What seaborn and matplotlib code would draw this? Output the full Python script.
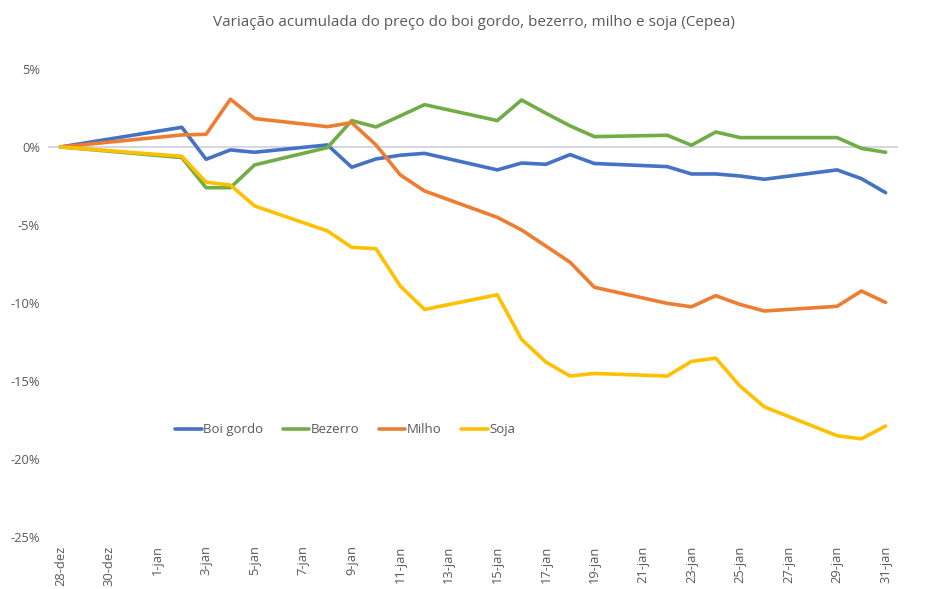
import numpy as np
import pandas as pd
import seaborn as sns
import matplotlib.pyplot as plt

# business days with quotes (2017-12-28 .. 2018-01-31)
dates = ["2017-12-28", "2018-01-02", "2018-01-03", "2018-01-04", "2018-01-05",
         "2018-01-08", "2018-01-09", "2018-01-10", "2018-01-11", "2018-01-12",
         "2018-01-15", "2018-01-16", "2018-01-17", "2018-01-18", "2018-01-19",
         "2018-01-22", "2018-01-23", "2018-01-24", "2018-01-25", "2018-01-26",
         "2018-01-29", "2018-01-30", "2018-01-31"]

boi_gordo = [0.0, 1.26, -0.79, -0.19, -0.34, 0.13, -1.30, -0.77, -0.53, -0.41,
             -1.47, -1.03, -1.11, -0.49, -1.06, -1.26, -1.73, -1.73, -1.86, -2.07,
             -1.47, -2.03, -2.93]
bezerro = [0.0, -0.68, -2.61, -2.61, -1.15, -0.04, 1.69, 1.28, 1.99, 2.71,
           1.69, 3.01, 2.16, 1.35, 0.66, 0.75, 0.11, 0.96, 0.60, 0.60,
           0.60, -0.09, -0.34]
milho = [0.0, 0.77, 0.81, 3.06, 1.82, 1.30, 1.56, 0.13, -1.79, -2.82,
         -4.51, -5.32, -6.35, -7.39, -8.99, -10.02, -10.24, -9.53, -10.09, -10.51,
         -10.21, -9.23, -9.96]
soja = [0.0, -0.60, -2.26, -2.44, -3.78, -5.38, -6.43, -6.52, -8.91, -10.41,
        -9.47, -12.33, -13.78, -14.68, -14.51, -14.68, -13.74, -13.53, -15.32, -16.65,
        -18.50, -18.70, -17.88]

series_names = ["Boi gordo", "Bezerro", "Milho", "Soja"]
colors = ["#4472C4", "#70AD47", "#ED7D31", "#FFC000"]

tick_dates = pd.date_range("2017-12-28", "2018-01-31", freq="2D")
tick_labels = ["28-dez", "30-dez", "1-jan", "3-jan", "5-jan", "7-jan", "9-jan",
               "11-jan", "13-jan", "15-jan", "17-jan", "19-jan", "21-jan",
               "23-jan", "25-jan", "27-jan", "29-jan", "31-jan"]
y_ticks = [5, 0, -5, -10, -15, -20, -25]
y_labels = ["5%", "0%", "-5%", "-10%", "-15%", "-20%", "-25%"]

frames = []
for name, vals in zip(series_names, [boi_gordo, bezerro, milho, soja]):
    frames.append(pd.DataFrame({"data": pd.to_datetime(dates), "var": vals, "serie": name}))
df = pd.concat(frames, ignore_index=True)

sns.set_style("white")
plt.rcParams['font.family'] = ['Open Sans', 'DejaVu Sans']
txt = "#595959"

fig = plt.figure(figsize=(9.48, 5.89), dpi=100)
ax = fig.add_axes([0.051, 0.088, 0.896, 0.795])

ax.axhline(0, color="#D0D0DC", lw=1.2, zorder=0)
sns.lineplot(data=df, x="data", y="var", hue="serie", hue_order=series_names,
             palette=colors, linewidth=2.6, ax=ax, legend=True)

ax.set_xlim(pd.Timestamp("2017-12-27 12:00"), pd.Timestamp("2018-01-31 12:00"))
ax.set_ylim(-25, 5)
ax.set_xticks(tick_dates)
ax.set_xticklabels(tick_labels, rotation=90, fontsize=9.3, color=txt)
ax.set_yticks(y_ticks)
ax.set_yticklabels(y_labels, fontsize=9.3, color=txt)
ax.tick_params(axis="both", length=0, pad=6)
ax.set_xlabel("")
ax.set_ylabel("")
for s in ax.spines.values():
    s.set_visible(False)

fig.suptitle("Variação acumulada do preço do boi gordo, bezerro, milho e soja (Cepea)",
             x=0.5, y=0.975, fontsize=11, color=txt)

leg = ax.legend(loc="center", bbox_to_anchor=(0.364, 0.27), bbox_transform=fig.transFigure,
                ncol=4, frameon=False, fontsize=9.5, handlelength=2.0, handletextpad=0.1,
                columnspacing=1.5)
for t in leg.get_texts():
    t.set_color(txt)

fig.savefig("out.png", dpi=100)
